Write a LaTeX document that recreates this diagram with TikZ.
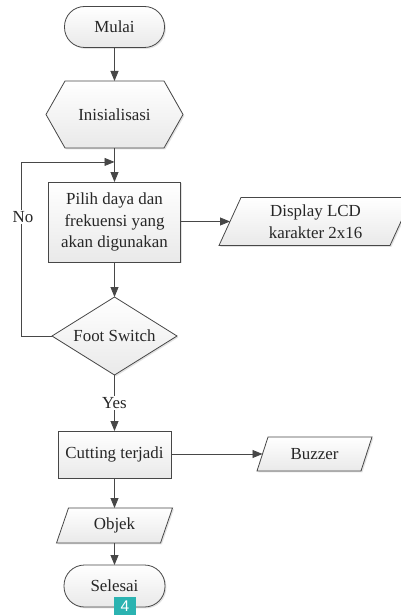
\documentclass[tikz,border=0pt]{standalone}
\usepackage{fontspec}
\setmainfont{Liberation Serif}
\setsansfont{Liberation Sans}
\usetikzlibrary{arrows.meta,backgrounds,calc}
\definecolor{ln}{HTML}{474747}
\definecolor{tx}{HTML}{262626}
\definecolor{fl}{HTML}{E9E9E9}
\definecolor{badgec}{HTML}{2BB3B1}
\tikzset{
  body/.style={rectangle, draw=none, inner sep=0pt, outer sep=0pt, align=center,
    text=tx, font=\fontsize{16.9}{21.5}\selectfont},
  shp/.style={draw=ln, line width=0.8pt, top color=white, bottom color=fl,
    preaction={fill=black!25, opacity=0.45, transform canvas={shift={(1.4pt,-1.4pt)}}}},
  arr/.style={draw=ln, line width=0.8pt, -{Triangle[length=10pt,width=8pt]}},
  lbl/.style={fill=white, inner sep=1pt, text=tx, font=\fontsize{16.9}{19}\selectfont},
}
\begin{document}
\begin{tikzpicture}[x=1pt,y=-1pt]
\useasboundingbox (0,0) rectangle (400,615);
\clip (0,0) rectangle (400,615);
% nodes
\node[body, minimum width=100pt, minimum height=41pt] (mulai) at (114.5,27) {Mulai};
\node[body, minimum width=137pt, minimum height=67pt] (ini) at (114.5,114.5) {Inisialisasi};
\node[body, minimum width=132pt, minimum height=80pt] (pilih) at (114.5,222) {Pilih daya dan\\frekuensi yang\\akan digunakan};
\node[body, minimum width=193pt, minimum height=48pt] (lcd) at (315.5,221.5) {Display LCD\\karakter 2x16};
\node[body, minimum width=125pt, minimum height=78pt] (foot) at (114.5,336) {Foot Switch};
\node[body, minimum width=113pt, minimum height=47pt] (cut) at (114.5,454.5) {Cutting terjadi};
\node[body, minimum width=115pt, minimum height=34pt] (buzz) at (314.5,454) {Buzzer};
\node[body, minimum width=116pt, minimum height=35pt] (objek) at (114.5,525.5) {Objek};
\node[body, minimum width=101pt, minimum height=42pt] (selesai) at (114.5,586) {Selesai};
% shapes
\begin{scope}[on background layer]
  \path[shp, rounded corners=20pt] (mulai.south west) rectangle (mulai.north east);
  \path[shp] (ini.west) -- ([xshift=19pt]ini.north west) -- ([xshift=-19pt]ini.north east)
     -- (ini.east) -- ([xshift=-19pt]ini.south east) -- ([xshift=19pt]ini.south west) -- cycle;
  \path[shp] (pilih.south west) rectangle (pilih.north east);
  \path[shp] (lcd.south west) -- ([xshift=22pt]lcd.north west) -- (lcd.north east)
     -- ([xshift=-22pt]lcd.south east) -- cycle;
  \path[shp] (foot.west) -- (foot.north) -- (foot.east) -- (foot.south) -- cycle;
  \path[shp] (cut.south west) rectangle (cut.north east);
  \path[shp] (buzz.south west) -- ([xshift=11pt]buzz.north west) -- (buzz.north east)
     -- ([xshift=-11pt]buzz.south east) -- cycle;
  \path[shp] (objek.south west) -- ([xshift=12pt]objek.north west) -- (objek.north east)
     -- ([xshift=-12pt]objek.south east) -- cycle;
  \path[shp, rounded corners=20.5pt] (selesai.south west) rectangle (selesai.north east);
\end{scope}
% connectors
\coordinate (join) at ($(ini.south)!0.41!(pilih.north)$);
\draw[arr] (mulai.south) -- (ini.north);
\draw[arr] (ini.south) -- (pilih.north);
\draw[arr] (foot.west) -- ++(-30.5,0) |- (join);
\node[lbl] (no) at (23,217) {No};
\draw[arr] (pilih.east |- lcd.west) -- ([xshift=11pt]lcd.west);
\draw[arr] (pilih.south) -- (foot.north);
\draw[arr] (foot.south) -- (cut.north);
\node[lbl] (yes) at (114.5,403) {Yes};
\draw[arr] (cut.east |- buzz.west) -- ([xshift=5.5pt]buzz.west);
\draw[arr] (cut.south) -- (objek.north);
\draw[arr] (objek.south) -- (selesai.north);
% badge
\node[fill=badgec, minimum width=22pt, minimum height=18pt, inner sep=0pt,
  text=white, font=\sffamily\fontsize{15.5}{15.5}\selectfont, anchor=north] (badge) at (125,597) {4};
\end{tikzpicture}
\end{document}
